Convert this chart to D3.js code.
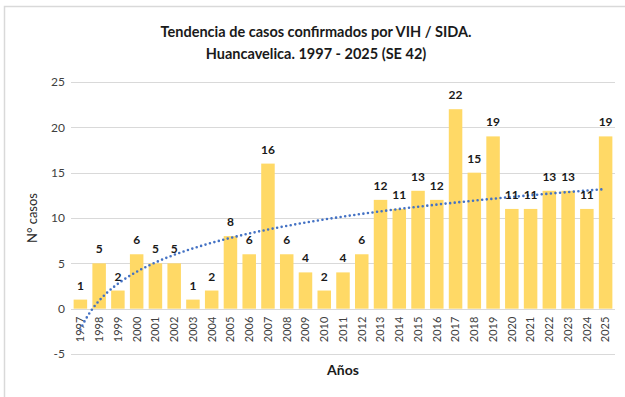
<!DOCTYPE html>
<html>
<head>
<meta charset="utf-8">
<script src="https://cdn.jsdelivr.net/npm/d3@7"></script>
<style>
  html, body { margin: 0; padding: 0; background: #fff; }
  svg { display: block; font-family: Lato, "Liberation Sans", sans-serif; }
</style>
</head>
<body>
<svg id="chart" width="625" height="397"></svg>
<script>
// Casos confirmados de VIH / SIDA por año, Huancavelica
const years = ["1997","1998","1999","2000","2001","2002","2003","2004","2005","2006",
               "2007","2008","2009","2010","2011","2012","2013","2014","2015","2016",
               "2017","2018","2019","2020","2021","2022","2023","2024","2025"];
const cases = [1,5,2,6,5,5,1,2,8,6,16,6,4,2,4,6,12,11,13,12,22,15,19,11,11,13,13,11,19];
const yTicks = [-5,0,5,10,15,20,25];

const titleLines = ["Tendencia de casos confirmados por VIH / SIDA.",
                    "Huancavelica. 1997 - 2025 (SE 42)"];

const svg = d3.select("#chart");
const margin = { left: 71, right: 10, top: 82, bottom: 43 };
const W = 625, H = 397;

// Frame of the chart area
svg.append("rect")
  .attr("x", 4.5).attr("y", 6.5)
  .attr("width", 640).attr("height", 420)
  .attr("fill", "none").attr("stroke", "#d9d9d9").attr("stroke-width", 1.5);

const x = d3.scaleBand()
  .domain(years)
  .range([margin.left, W - margin.right])
  .paddingInner(0.28).paddingOuter(0.14);

const y = d3.scaleLinear()
  .domain([-5, 25])
  .range([H - margin.bottom, margin.top]);

// Gridlines
svg.append("g")
  .selectAll("line")
  .data(yTicks)
  .join("line")
  .attr("x1", margin.left).attr("x2", W - margin.right)
  .attr("y1", d => Math.round(y(d)) + 0.5).attr("y2", d => Math.round(y(d)) + 0.5)
  .attr("stroke", "#d9d9d9").attr("stroke-width", 1.2);

// Y axis labels (plain hyphen for negatives)
const yAxis = d3.axisLeft(y).tickValues(yTicks).tickSize(0).tickPadding(6)
  .tickFormat(d => String(d));
svg.append("g")
  .attr("transform", `translate(${margin.left},0)`)
  .call(yAxis)
  .call(g => g.select(".domain").remove())
  .selectAll("text")
  .attr("font-size", 12).attr("fill", "#404040")
  .attr("font-family", "Lato, 'Liberation Sans', sans-serif");

// Bars
const rows = years.map((yr, i) => ({ yr, v: cases[i] }));
svg.append("g")
  .selectAll("rect")
  .data(rows)
  .join("rect")
  .attr("x", d => x(d.yr))
  .attr("width", x.bandwidth())
  .attr("y", d => y(Math.max(0, d.v)))
  .attr("height", d => Math.abs(y(d.v) - y(0)))
  .attr("fill", "#ffd966");

// X axis labels (rotated)
const xAxis = d3.axisBottom(x).tickSize(0).tickPadding(0);
svg.append("g")
  .attr("transform", `translate(0,${y(0)})`)
  .call(xAxis)
  .call(g => g.select(".domain").remove())
  .selectAll("text")
  .attr("font-size", 11).attr("fill", "#404040")
  .attr("font-family", "Lato, 'Liberation Sans', sans-serif")
  .attr("text-anchor", "end")
  .attr("dy", "0.35em")
  .attr("transform", "translate(0,8) rotate(-90)")
  .attr("y", 0).attr("x", 0);

// Logarithmic trend line: y = a·ln(n) + b fitted to the yearly counts
const lnX = cases.map((_, i) => Math.log(i + 1));
const mx = d3.mean(lnX), my = d3.mean(cases);
const a = d3.sum(lnX.map((l, i) => (l - mx) * (cases[i] - my))) /
          d3.sum(lnX.map(l => (l - mx) ** 2));
const b = my - a * mx;

// Position along the category axis for a fractional period n (1 = first year)
const xPos = n => x(years[0]) + x.bandwidth() / 2 + (n - 1) * x.step();
const trend = d3.range(1, years.length + 0.001, 0.1).map(n => ({ n, v: a * Math.log(n) + b }));

svg.append("path")
  .datum(trend)
  .attr("d", d3.line().x(d => xPos(d.n)).y(d => y(d.v)))
  .attr("fill", "none")
  .attr("stroke", "#4472c4")
  .attr("stroke-width", 2.6)
  .attr("stroke-linecap", "round")
  .attr("stroke-dasharray", "0 4.6");

// Value labels
svg.append("g")
  .selectAll("text")
  .data(rows)
  .join("text")
  .attr("x", d => x(d.yr) + x.bandwidth() / 2)
  .attr("y", d => y(d.v) - 10)
  .attr("text-anchor", "middle")
  .attr("font-size", 12).attr("font-weight", "bold").attr("fill", "#1a1a1a")
  .text(d => d.v);

// Title
svg.append("g")
  .selectAll("text")
  .data(titleLines)
  .join("text")
  .attr("x", 316).attr("y", (d, i) => 37 + i * 22)
  .attr("text-anchor", "middle")
  .attr("font-size", 14.5).attr("font-weight", "bold").attr("fill", "#1a1a1a")
  .text(d => d);

// Axis titles
svg.append("text")
  .attr("transform", `translate(37,${(y(-5) + y(25)) / 2}) rotate(-90)`)
  .attr("text-anchor", "middle")
  .attr("font-size", 13).attr("fill", "#262626")
  .text("N° casos");

svg.append("text")
  .attr("x", 343).attr("y", 375)
  .attr("text-anchor", "middle")
  .attr("font-size", 14).attr("font-weight", "bold").attr("fill", "#1a1a1a")
  .text("Años");
</script>
</body>
</html>
